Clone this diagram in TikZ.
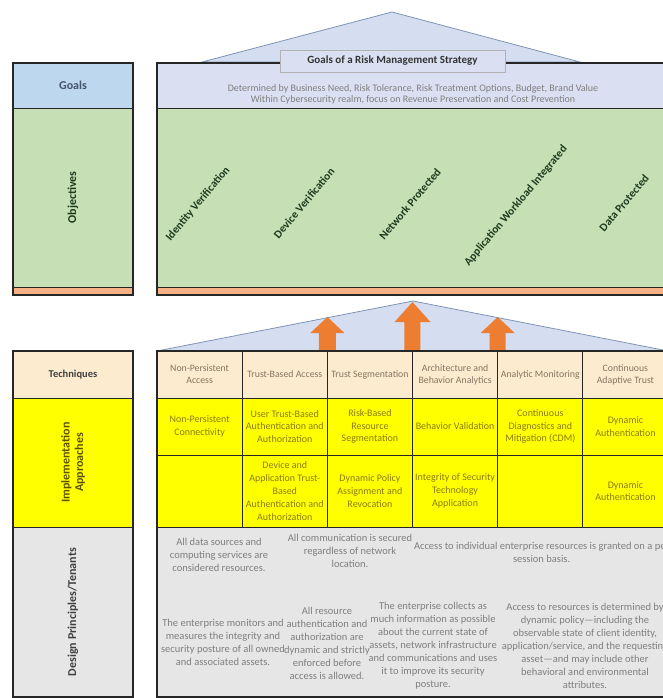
\documentclass[tikz,border=0pt]{standalone}
\usepackage{fontspec}
\setmainfont{Carlito}
\usepackage{tikz}
\usetikzlibrary{positioning}

\definecolor{goalblue}{HTML}{BDD7EE}
\definecolor{goallav}{HTML}{DAE0F2}
\definecolor{objgreen}{HTML}{C6DFB4}
\definecolor{stripor}{HTML}{F4B183}
\definecolor{techpeach}{HTML}{FDEBCF}
\definecolor{implyellow}{HTML}{FFFF00}
\definecolor{designgrey}{HTML}{E7E6E6}
\definecolor{arroworange}{HTML}{ED7D31}
\definecolor{roofline}{HTML}{7F95B5}
\definecolor{roofblue}{HTML}{D5DEF0}
\definecolor{notegrey}{HTML}{7F7F7F}
\definecolor{techtext}{HTML}{857560}
\definecolor{impltext}{HTML}{8A7C10}
\definecolor{objtext}{HTML}{1E3A1E}
\definecolor{goaltext}{HTML}{44546A}
\definecolor{headtext}{HTML}{404040}
\definecolor{implhtext}{HTML}{5C5300}

% block arrow pointing up: base point, half shaft, half head, shaft length, head length
\newcommand{\blockup}[5]{%
  \fill[arroworange] (#1) ++(-#2,0) -- ++(0,-#4) -- ++(#2-#3,0) -- ++(#3,-#5)
    -- ++(#3,#5) -- ++(#2-#3,0) -- ++(0,#4) -- cycle;}

\begin{document}
\begin{tikzpicture}[
    x=1pt, y=-1pt,
    every node/.style = {inner sep=1pt, outer sep=0pt},
    head/.style = {rectangle, draw=black!85, line width=0.8pt, minimum width=120pt, font=\fontsize{12}{14}\selectfont\bfseries, text=headtext},
    band/.style = {rectangle, draw=black!85, line width=0.8pt, minimum width=511pt},
    objective/.style = {rotate=50, font=\fontsize{11.3}{13}\selectfont\bfseries, text=objtext},
    techcell/.style = {rectangle, draw=black!85, line width=0.8pt, fill=techpeach, minimum width=85.17pt, minimum height=47pt, align=center, text=techtext, font=\fontsize{9.8}{12}\selectfont},
    implcell/.style = {rectangle, draw=black!85, line width=0.8pt, fill=implyellow, minimum width=85.17pt, align=center, text=impltext, font=\fontsize{10}{12.8}\selectfont},
    principle/.style = {align=center, text=notegrey, font=\fontsize{10.5}{13}\selectfont},
    frame/.style = {draw=black!85, line width=1.5pt},
    roof/.style = {fill=roofblue, draw=roofline, line width=0.8pt}
]
    \useasboundingbox (0,0) rectangle (662,698);

    % Roof over the goals
    \coordinate (goal top) at (392,12);
    \filldraw [roof] (202,62) -- (goal top) -- (580,62) -- cycle;

    % Left column, upper block
    \node [head, fill=goalblue, minimum height=45pt, text=goaltext] (goalshead) at (73,85.5) {Goals};
    \node [head, fill=objgreen, rotate=90, minimum width=179pt, minimum height=120pt, text=objtext] (objhead) at (73,197.5) {Objectives};
    \node [head, fill=stripor, minimum height=8pt, inner sep=0pt] (striphead) at (73,291) {};
    \draw [frame] (goalshead.north west) rectangle (striphead.south east);

    % Goals and objectives
    \node [band, fill=goallav, minimum height=45pt] (goals) at (412.5,85.5) {};
    \node [band, fill=objgreen, minimum height=179pt] (objectives) at (412.5,197.5) {};
    \node [band, fill=stripor, minimum height=8pt, inner sep=0pt] (strip) at (412.5,291) {};
    \draw [frame] (goals.north west) rectangle (strip.south east);
    \node [align=center, text=notegrey, font=\fontsize{10}{11}\selectfont] (goalsnote) at (413,94.5)
        {Determined by Business Need, Risk Tolerance, Risk Treatment Options, Budget, Brand Value\\
         Within Cybersecurity realm, focus on Revenue Preservation and Cost Prevention};
    \node [rectangle, fill=goallav, draw=black!30, minimum width=225pt, minimum height=22pt, font=\fontsize{11}{13}\selectfont\bfseries, text=black!80] (goaltitle) at (392.5,61) {Goals of a Risk Management Strategy};

    % Objectives
    \node [objective] (identity) at (198,204) {Identity Verification};
    \node [objective] (device) at (304,203) {Device Verification};
    \node [objective] (network) at (410,204) {Network Protected};
    \node [objective] (workload) at (516,206) {Application Workload Integrated};
    \node [objective] (data) at (624,203) {Data Protected};

    % Roof over the techniques
    \coordinate (tech top) at (413,301);
    \filldraw [roof] (157,351) -- (tech top) -- (668,351) -- cycle;

    % Left column, lower block
    \node [head, fill=techpeach, minimum height=47pt, font=\fontsize{10.5}{12}\selectfont\bfseries] (techhead) at (73,374.5) {Techniques};
    \node [head, fill=implyellow, rotate=90, minimum width=129pt, minimum height=120pt, align=center, text=implhtext, font=\fontsize{12}{13.5}\selectfont\bfseries] (implhead) at (73,462.5) {Implementation\\Approaches};
    \node [head, fill=designgrey, rotate=90, minimum width=170pt, minimum height=120pt] (designhead) at (73,612) {Design Principles/Tenants};
    \draw [frame] (techhead.north west) rectangle (designhead.south west);

    % Techniques
    \node [techcell] (tech1) at (199.6,374.5) {Non-Persistent\\Access};
    \node [techcell] (tech2) at (284.8,374.5) {Trust-Based Access};
    \node [techcell] (tech3) at (369.9,374.5) {Trust Segmentation};
    \node [techcell] (tech4) at (455.1,374.5) {Architecture and\\Behavior Analytics};
    \node [techcell] (tech5) at (540.3,374.5) {Analytic Monitoring};
    \node [techcell] (tech6) at (625.4,374.5) {Continuous\\Adaptive Trust};

    % Arrows up to the objectives
    \blockup{tech2.north east}{8.5}{17}{18}{16}
    \blockup{tech3.north east}{8}{18}{29}{20}
    \blockup{tech4.north east}{8}{17}{18}{16}

    % Implementation approaches - first row
    \node [implcell, minimum height=57pt] (implA1) at (199.6,426.5) {Non-Persistent\\Connectivity};
    \node [implcell, minimum height=57pt] (implA2) at (284.8,426.5) {User Trust-Based\\Authentication and\\Authorization};
    \node [implcell, minimum height=57pt] (implA3) at (369.9,426.5) {Risk-Based\\Resource\\Segmentation};
    \node [implcell, minimum height=57pt] (implA4) at (455.1,426.5) {Behavior Validation};
    \node [implcell, minimum height=57pt] (implA5) at (540.3,426.5) {Continuous\\Diagnostics and\\Mitigation (CDM)};
    \node [implcell, minimum height=57pt] (implA6) at (625.4,426.5) {Dynamic\\Authentication};

    % Implementation approaches - second row
    \node [implcell, minimum height=72pt] (implB1) at (199.6,491) {};
    \node [implcell, minimum height=72pt] (implB2) at (284.8,491) {Device and\\Application Trust-\\Based\\Authentication and\\Authorization};
    \node [implcell, minimum height=72pt] (implB3) at (369.9,491) {Dynamic Policy\\Assignment and\\Revocation};
    \node [implcell, minimum height=72pt] (implB4) at (455.1,491) {Integrity of Security\\Technology\\Application};
    \node [implcell, minimum height=72pt] (implB5) at (540.3,491) {};
    \node [implcell, minimum height=72pt] (implB6) at (625.4,491) {Dynamic\\Authentication};

    % Design principles
    \node [band, fill=designgrey, minimum height=170pt] (design) at (412.5,612) {};
    \draw [frame] (tech1.north west) rectangle (design.south east);
    \node [principle] (allsources) at (219,555) {All data sources and\\computing services are\\considered resources.};
    \node [principle] (allcomm) at (350,551) {All communication is secured\\regardless of network\\location.};
    \node [principle, anchor=west] (persession) at (413,552) {Access to individual enterprise resources is granted on a per\\session basis.};
    \node [principle] (monitors) at (223,642.5) {The enterprise monitors and\\measures the integrity and\\security posture of all owned\\and associated assets.};
    \node [principle] (dynauth) at (327,643) {All resource\\authentication and\\authorization are\\dynamic and strictly\\enforced before\\access is allowed.};
    \node [principle] (collects) at (433,645.5) {The enterprise collects as\\much information as possible\\about the current state of\\assets, network infrastructure\\and communications and uses\\it to improve its security\\posture.};
    \node [principle] (policy) at (585,645.5) {Access to resources is determined by\\dynamic policy---including the\\observable state of client identity,\\application/service, and the requesting\\asset---and may include other\\behavioral and environmental\\attributes.};
\end{tikzpicture}
\end{document}
